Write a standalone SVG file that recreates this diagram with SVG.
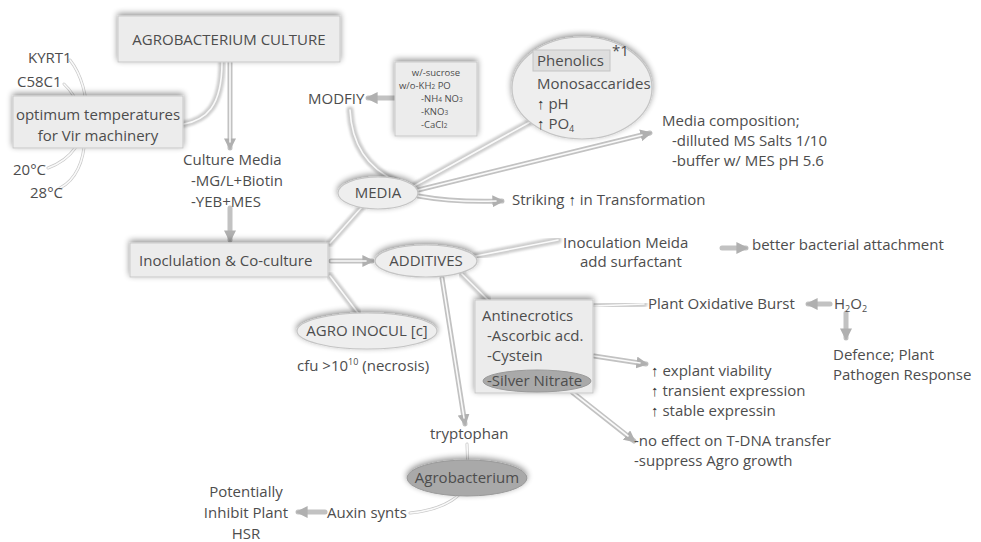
<svg xmlns="http://www.w3.org/2000/svg" width="981" height="542" viewBox="0 0 981 542">
<defs>
<filter id="sh" x="-20%" y="-30%" width="140%" height="160%">
<feGaussianBlur in="SourceAlpha" stdDeviation="3"/>
<feOffset dx="0" dy="-2" result="b"/>
<feComponentTransfer><feFuncA type="linear" slope="0.45"/></feComponentTransfer>
<feMerge><feMergeNode/><feMergeNode in="SourceGraphic"/></feMerge>
</filter>
<filter id="soft" x="-10%" y="-10%" width="120%" height="120%"><feGaussianBlur stdDeviation="1.2"/></filter>
<marker id="ah" viewBox="0 0 10 10" refX="8" refY="5" markerWidth="2.4" markerHeight="2.4" orient="auto" markerUnits="strokeWidth">
<path d="M0,0 L10,5 L0,10 z" fill="#b0b0b0"/>
</marker>
</defs>
<style>
text{font-family:"Open Sans","Noto Sans","Liberation Sans",sans-serif;fill:#4d4d4d;font-size:15px}
.sm{font-size:9.5px}
.sub{font-size:6.5px}
.box{fill:#ececec;stroke:#c9c9c9;stroke-width:1}
.ell{fill:#eeeeee;stroke:#c4c4c4;stroke-width:1.2}
.dk{fill:#a9a9a9;stroke:#9a9a9a}
.band{fill:none;stroke:#cdcdcd;stroke-width:7;stroke-linecap:round;filter:url(#soft)}
.hl{fill:none;stroke:#fafafa;stroke-width:1.6;stroke-linecap:round}
.ar{fill:none;stroke:#c2c2c2;stroke-width:5;stroke-linecap:round;marker-end:url(#ah)}
.thin{fill:none;stroke:#c8c8c8;stroke-width:3;stroke-linecap:round}
.up{font-weight:bold;fill:#333}
</style>
<rect width="981" height="542" fill="#ffffff"/>

<g id="connectors">
<path class="band" d="M222 62 C222 108 205 120 184 124"/>
<path class="hl" d="M222 62 C222 108 205 120 184 124"/>
<path class="ar" d="M230 62 L230 148"/>
<path class="hl" d="M230 62 L230 142"/>
<path class="ar" d="M230 208 L230 240"/>
<path class="thin" d="M70 60 C92 88 98 150 48 168"/>
<path class="hl" d="M70 60 C92 88 98 150 48 168"/>
<path class="thin" d="M64 84 C92 110 92 172 60 188"/>
<path class="hl" d="M64 84 C92 110 92 172 60 188"/>
<path class="band" d="M350 110 C352 150 372 170 396 181"/>
<path class="hl" d="M350 110 C352 150 372 170 396 181"/>
<path class="ar" d="M395 98 L368 98"/>
<path class="band" d="M414 186 L530 122"/>
<path class="hl" d="M414 186 L530 122"/>
<path class="ar" d="M418 190 L650 133"/>
<path class="hl" d="M418 190 L642 135"/>
<path class="ar" d="M418 196 C440 200 470 202 502 201"/>
<path class="hl" d="M418 196 C440 200 470 202 496 201"/>
<path class="band" d="M330 243 L362 207"/>
<path class="hl" d="M330 243 L362 207"/>
<path class="ar" d="M331 261 L372 261"/>
<path class="hl" d="M331 261 L366 261"/>
<path class="band" d="M330 276 L358 313"/>
<path class="hl" d="M330 276 L358 313"/>
<path class="band" d="M476 256 L558 240"/>
<path class="hl" d="M476 256 L558 240"/>
<path class="ar" d="M722 248 L746 248"/>
<path class="band" d="M462 274 L488 300"/>
<path class="hl" d="M462 274 L488 300"/>
<path class="ar" d="M442 278 L465 424"/>
<path class="hl" d="M442 278 L464 418"/>
<path class="band" d="M594 306 L644 304"/>
<path class="hl" d="M594 306 L644 304"/>
<path class="ar" d="M830 304 L808 304"/>
<path class="ar" d="M846 313 L846 338"/>
<path class="ar" d="M594 356 L646 364"/>
<path class="hl" d="M594 356 L640 363"/>
<path class="ar" d="M572 392 L634 441"/>
<path class="hl" d="M572 392 L628 436"/>
<path class="thin" d="M467 444 L468 472 C470 496 442 510 410 513"/>
<path class="hl" d="M467 444 L468 472 C470 496 442 510 410 513"/>
<path class="ar" d="M325 512 L298 512"/>
</g>

<g id="agro-culture"><rect class="box" x="118" y="16" width="222" height="46" filter="url(#sh)"/><text x="229" y="45" text-anchor="middle" font-size="16">AGROBACTERIUM CULTURE</text></g>
<g id="kyrt1"><text x="28" y="63" font-size="13">KYRT1</text></g>
<g id="c58c1"><text x="17" y="87" font-size="14">C58C1</text></g>
<g id="optimum"><rect class="box" x="13" y="96" width="170" height="52" filter="url(#sh)"/><text x="98" y="120" text-anchor="middle">optimum temperatures</text><text x="98" y="141" text-anchor="middle">for Vir machinery</text></g>
<g id="t20"><text x="13" y="175" font-size="14">20°C</text></g>
<g id="t28"><text x="30" y="198" font-size="14">28°C</text></g>
<g id="culture-media"><text x="183" y="165">Culture Media</text><text x="191" y="186">-MG/L+Biotin</text><text x="191" y="207">-YEB+MES</text></g>
<g id="modfiy"><text x="308" y="104">MODFIY</text></g>
<g id="wo-box"><rect class="box" x="395" y="62" width="82" height="74" filter="url(#sh)"/>
<text class="sm" x="436" y="76" text-anchor="middle">w/-sucrose</text>
<text class="sm" x="399" y="89">w/o-KH<tspan class="sub">2</tspan> PO</text>
<text class="sm" x="421" y="102">-NH<tspan class="sub">4</tspan> NO<tspan class="sub">3</tspan></text>
<text class="sm" x="421" y="115">-KNO<tspan class="sub">3</tspan></text>
<text class="sm" x="421" y="128">-CaCl<tspan class="sub">2</tspan></text></g>
<g id="phenolics"><ellipse class="ell" cx="582" cy="88" rx="70" ry="51" filter="url(#sh)"/>
<rect x="533" y="50" width="77" height="21" fill="#dedede" stroke="#c4c4c4"/>
<text x="537" y="66">Phenolics</text><text x="612" y="56" font-size="9">*1</text>
<text x="537" y="89" font-size="14.5">Monosaccarides</text>
<text x="537" y="109"><tspan class="up">↑</tspan> pH</text>
<text x="537" y="129"><tspan class="up">↑</tspan> PO<tspan font-size="9" dy="3">4</tspan></text></g>
<g id="media-comp"><text x="662" y="126">Media composition;</text><text x="672" y="146">-dilluted MS Salts 1/10</text><text x="672" y="166">-buffer w/ MES pH 5.6</text></g>
<g id="media"><ellipse class="ell" cx="378" cy="193" rx="40" ry="16" filter="url(#sh)"/><text x="378" y="198" text-anchor="middle">MEDIA</text></g>
<g id="striking"><text x="512" y="205">Striking <tspan class="up">↑</tspan> in Transformation</text></g>
<g id="inoc"><rect class="box" x="130" y="243" width="198" height="34" filter="url(#sh)"/><text x="139" y="266">Inoclulation &amp; Co-culture</text></g>
<g id="additives"><ellipse class="ell" cx="426" cy="261" rx="51" ry="16" filter="url(#sh)"/><text x="426" y="266" text-anchor="middle">ADDITIVES</text></g>
<g id="inoc-meida"><text x="563" y="248">Inoculation Meida</text><text x="580" y="267">add surfactant</text></g>
<g id="attachment"><text x="752" y="250">better bacterial attachment</text></g>
<g id="agro-inocul"><ellipse class="ell" cx="367" cy="331" rx="70" ry="18" filter="url(#sh)"/><text x="367" y="336" text-anchor="middle">AGRO INOCUL [c]</text></g>
<g id="cfu"><text x="297" y="371">cfu &gt;10<tspan font-size="9" dy="-6">10</tspan><tspan dy="6"> (necrosis)</tspan></text></g>
<g id="antinecrotics"><rect class="box" x="475" y="300" width="118" height="93" filter="url(#sh)"/>
<text x="482" y="321">Antinecrotics</text><text x="487" y="341">-Ascorbic acd.</text><text x="487" y="361">-Cystein</text>
<ellipse class="dk" cx="537" cy="381" rx="54" ry="11"/><text x="487" y="386" fill="#f0f0f0" font-size="14.5">-Silver Nitrate</text></g>
<g id="oxidative"><text x="648" y="309">Plant Oxidative Burst</text></g>
<g id="h2o2"><text x="834" y="309">H<tspan font-size="9" dy="3">2</tspan><tspan dy="-3">O</tspan><tspan font-size="9" dy="3">2</tspan></text></g>
<g id="defence"><text x="833" y="360">Defence; Plant</text><text x="833" y="380">Pathogen Response</text></g>
<g id="viability"><text x="651" y="376"><tspan class="up">↑</tspan> explant viability</text><text x="651" y="396"><tspan class="up">↑</tspan> transient expression</text><text x="651" y="416"><tspan class="up">↑</tspan>  stable expressin</text></g>
<g id="no-effect"><text x="634" y="446">-no effect on T-DNA transfer</text><text x="634" y="466">-suppress Agro growth</text></g>
<g id="tryptophan"><text x="430" y="439">tryptophan</text></g>
<g id="agrobacterium"><ellipse class="dk" cx="467" cy="478" rx="60" ry="18" filter="url(#sh)"/><text x="467" y="483" text-anchor="middle" fill="#3d3d3d">Agrobacterium</text></g>
<g id="auxin"><text x="327" y="518">Auxin synts</text></g>
<g id="inhibit"><text x="246" y="497" text-anchor="middle">Potentially</text><text x="246" y="518" text-anchor="middle">Inhibit Plant</text><text x="246" y="539" text-anchor="middle">HSR</text></g>
</svg>
